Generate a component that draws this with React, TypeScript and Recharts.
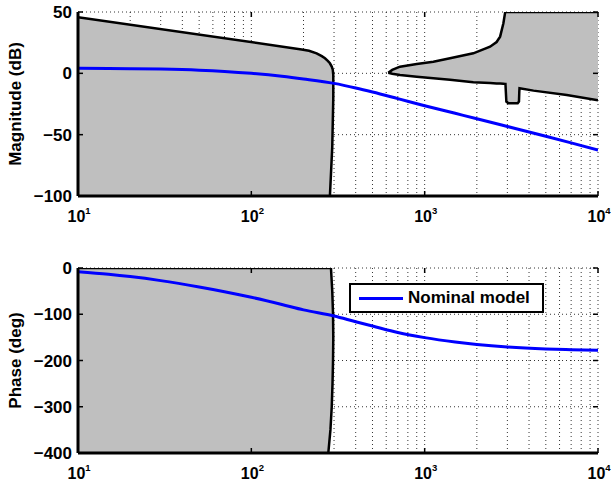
import React from 'react';
import { ComposedChart, Area, Line, XAxis, YAxis, CartesianGrid, Legend } from 'recharts';

const FONT = '"Liberation Sans", Arial, Helvetica, sans-serif';
const GRAY = '#bfbfbf';
const BLUE = '#0000ff';

// Nominal model frequency response
const freq = [10, 15, 20, 30, 50, 70, 100, 150, 200, 300, 400, 500, 700, 1000, 1500, 2000, 3000, 5000, 7000, 10000];
const nominalMag = [4.1, 3.96, 3.8, 3.45, 2.56, 1.54, 0.0, -2.4, -4.6, -8.2, -11.9, -15.2, -20.6, -26.4, -32.6, -37.0, -43.3, -51.3, -56.7, -62.6];
const nominalPhase = [-8, -13.5, -18.5, -27.3, -41, -51.2, -63.3, -78.8, -90.5, -103.8, -116.2, -125.5, -139.5, -150.5, -160, -165.3, -170.8, -175, -176.6, -178];

// Magnitude bound, low-frequency region (filled down to -100 dB)
const lowBoundFreq = [10, 195, 215, 238, 255, 266, 277, 284, 291, 295, 297, 297, 293, 284];
const lowBoundMag = [45.7, 19.5, 18.4, 16.3, 14.0, 12.3, 10.0, 8.2, 5.5, 3.0, -1.5, -20, -60, -100];

// Magnitude bound, high-frequency band (lower edge / upper edge)
const bandFreq = [617, 650, 721, 900, 1122, 1400, 1908, 2384, 2600, 2724, 2846, 2911, 2925, 2940, 2960, 3040, 3440, 3500, 3515, 3525, 4246, 6607, 10000];
const bandLow = [0.5, -0.4, -1.3, -2.8, -4.0, -5.3, -7.2, -7.9, -8.2, -8.3, -8.5, -8.6, -8.6, -15, -23, -24.4, -24.4, -23, -15, -12.2, -14.1, -17.6, -22];
const bandHigh = [0.5, 2.8, 5.4, 7.6, 9.5, 12.3, 16.3, 21.7, 25.5, 29.9, 40.8, 49.5, 50, 50, 50, 50, 50, 50, 50, 50, 50, 50, 50];

// Phase bound (filled from 0 down to -400 deg)
const phaseBoundFreq = [10, 288, 293, 296, 297, 296, 294, 291, 286, 278];
const phaseBoundDeg = [0, 0, -50, -100, -150, -200, -250, -300, -350, -400];

const xTicks = [
  10, 20, 30, 40, 50, 60, 70, 80, 90,
  100, 200, 300, 400, 500, 600, 700, 800, 900,
  1000, 2000, 3000, 4000, 5000, 6000, 7000, 8000, 9000, 10000,
];
const magTicks = [-100, -50, 0, 50];
const phaseTicks = [-400, -300, -200, -100, 0];

const nominalData = freq.map((f, i) => ({ f, mag: nominalMag[i], phase: nominalPhase[i] }));
const lowBoundData = lowBoundFreq.map((f, i) => ({ f, v: lowBoundMag[i] }));
const bandData = bandFreq.map((f, i) => ({ f, band: [bandLow[i], bandHigh[i]] }));
const phaseBoundData = phaseBoundFreq.map((f, i) => ({ f, v: phaseBoundDeg[i] }));

const W = 611;
const PLOT_LEFT = 78;
const PLOT_RIGHT = 598;
const frame = { stroke: '#000', strokeWidth: 3 };

// decade labels as 10^n, inward tick marks on bottom and top edges
const makeXTick = (plotH: number) => (props: any) => {
  const { x, y, payload } = props;
  const lg = Math.log10(payload.value);
  const exp = Math.round(lg);
  if (Math.abs(lg - exp) > 1e-9) return <g />;
  return (
    <g>
      <line x1={x} y1={y} x2={x} y2={y - 5} stroke="#000" strokeWidth={1.5} />
      <line x1={x} y1={y - plotH} x2={x} y2={y - plotH + 5} stroke="#000" strokeWidth={1.5} />
      <text x={x - 10.5} y={y + 26} fontFamily={FONT} fontWeight="bold" fontSize={16} fill="#000">
        10
        <tspan dy={-8} fontSize={9.5}>
          {exp}
        </tspan>
      </text>
    </g>
  );
};

const YTick = (props: any) => {
  const { x, y, payload } = props;
  const v = payload.value as number;
  const label = v < 0 ? `\u2212${Math.abs(v)}` : `${v}`;
  return (
    <g>
      <line x1={PLOT_LEFT} y1={y} x2={PLOT_LEFT + 5} y2={y} stroke="#000" strokeWidth={1.5} />
      <line x1={PLOT_RIGHT - 5} y1={y} x2={PLOT_RIGHT} y2={y} stroke="#000" strokeWidth={1.5} />
      <text x={x - 6} y={y + 6} textAnchor="end" fontFamily={FONT} fontWeight="bold" fontSize={17} fill="#000">
        {label}
      </text>
    </g>
  );
};

const axisTitle = (value: string) => ({
  value,
  angle: -90,
  position: 'insideLeft' as const,
  offset: 15,
  style: { textAnchor: 'middle', fontFamily: FONT, fontWeight: 'bold', fontSize: 17, fill: '#000' },
});

const LegendBox = () => (
  <div
    style={{
      width: 195,
      height: 30,
      boxSizing: 'border-box',
      border: '2.5px solid #000',
      background: '#fff',
      display: 'flex',
      alignItems: 'center',
      fontFamily: FONT,
      fontWeight: 'bold',
      fontSize: 17,
      color: '#000',
    }}
  >
    <span style={{ display: 'inline-block', width: 44, height: 3, background: BLUE, marginLeft: 8 }} />
    <span style={{ marginLeft: 5 }}>Nominal model</span>
  </div>
);

const MagnitudePlot = () => (
  <ComposedChart width={W} height={240} data={nominalData} margin={{ top: 12, right: 13, bottom: 14, left: 0 }}>
    <CartesianGrid stroke="#000" strokeDasharray="1 3" strokeWidth={0.8} />
    <XAxis
      dataKey="f"
      type="number"
      scale="log"
      domain={[10, 10000]}
      allowDataOverflow
      ticks={xTicks}
      interval={0}
      height={30}
      tickSize={0}
      tickMargin={0}
      tickLine={false}
      axisLine={frame}
      tick={makeXTick(184)}
    />
    <XAxis xAxisId="top" orientation="top" type="number" domain={[0, 1]} height={0} tick={false} tickLine={false} axisLine={frame} />
    <YAxis
      type="number"
      domain={[-100, 50]}
      allowDataOverflow
      ticks={magTicks}
      interval={0}
      width={78}
      tickSize={0}
      tickMargin={0}
      tickLine={false}
      axisLine={frame}
      tick={YTick}
      label={axisTitle('Magnitude (dB)')}
    />
    <YAxis yAxisId="right" orientation="right" type="number" domain={[0, 1]} width={0} tick={false} tickLine={false} axisLine={frame} />
    <Area
      data={lowBoundData}
      dataKey="v"
      type="linear"
      baseValue={-100}
      fill={GRAY}
      fillOpacity={1}
      stroke="#000"
      strokeWidth={2.5}
      dot={false}
      activeDot={false}
      isAnimationActive={false}
    />
    <Area
      data={bandData}
      dataKey="band"
      type="linear"
      fill={GRAY}
      fillOpacity={1}
      stroke="#000"
      strokeWidth={2.5}
      dot={false}
      activeDot={false}
      isAnimationActive={false}
    />
    <Line dataKey="mag" type="monotone" stroke={BLUE} strokeWidth={3} dot={false} activeDot={false} isAnimationActive={false} />
  </ComposedChart>
);

const PhasePlot = () => (
  <ComposedChart width={W} height={249} data={nominalData} margin={{ top: 28, right: 13, bottom: 6, left: 0 }}>
    <CartesianGrid stroke="#000" strokeDasharray="1 3" strokeWidth={0.8} />
    <XAxis
      dataKey="f"
      type="number"
      scale="log"
      domain={[10, 10000]}
      allowDataOverflow
      ticks={xTicks}
      interval={0}
      height={30}
      tickSize={0}
      tickMargin={0}
      tickLine={false}
      axisLine={frame}
      tick={makeXTick(185)}
    />
    <XAxis xAxisId="top" orientation="top" type="number" domain={[0, 1]} height={0} tick={false} tickLine={false} axisLine={frame} />
    <YAxis
      type="number"
      domain={[-400, 0]}
      allowDataOverflow
      ticks={phaseTicks}
      interval={0}
      width={78}
      tickSize={0}
      tickMargin={0}
      tickLine={false}
      axisLine={frame}
      tick={YTick}
      label={axisTitle('Phase (deg)')}
    />
    <YAxis yAxisId="right" orientation="right" type="number" domain={[0, 1]} width={0} tick={false} tickLine={false} axisLine={frame} />
    <Area
      data={phaseBoundData}
      dataKey="v"
      type="linear"
      baseValue={-400}
      fill={GRAY}
      fillOpacity={1}
      stroke="#000"
      strokeWidth={2.5}
      dot={false}
      activeDot={false}
      isAnimationActive={false}
    />
    <Line
      dataKey="phase"
      name="Nominal model"
      type="monotone"
      stroke={BLUE}
      strokeWidth={3}
      dot={false}
      activeDot={false}
      isAnimationActive={false}
    />
    <Legend
      layout="horizontal"
      verticalAlign="middle"
      align="center"
      wrapperStyle={{ left: 349, top: 43, width: 'auto' }}
      content={() => <LegendBox />}
    />
  </ComposedChart>
);

export default function App() {
  return (
    <div style={{ position: 'absolute', left: 0, top: 0, width: W, height: 489, background: '#fff', fontFamily: FONT }}>
      <div style={{ position: 'absolute', left: 0, top: 0 }}>
        <MagnitudePlot />
      </div>
      <div style={{ position: 'absolute', left: 0, top: 240 }}>
        <PhasePlot />
      </div>
    </div>
  );
}
